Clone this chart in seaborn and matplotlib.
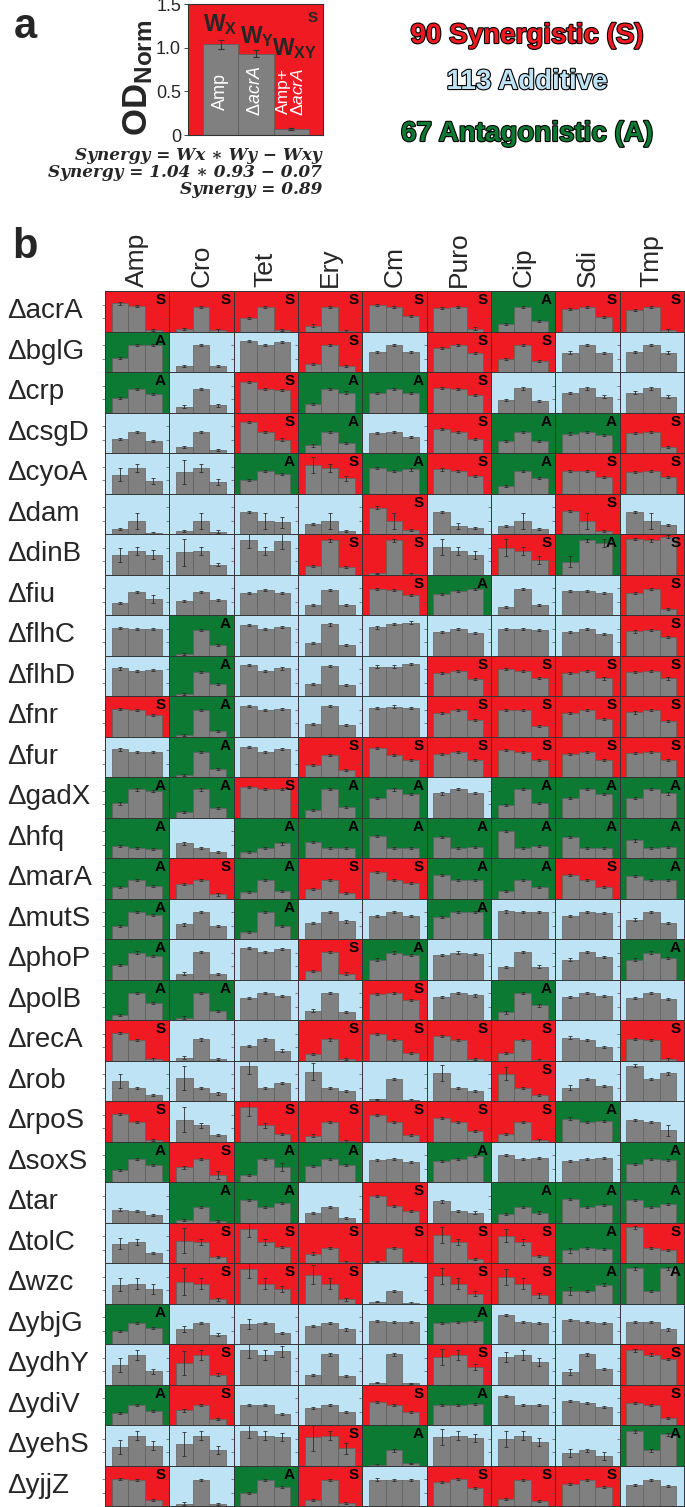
import numpy as np
import pandas as pd
import matplotlib
matplotlib.use("Agg")
import matplotlib.pyplot as plt
import matplotlib.patheffects as pe
import seaborn as sns

sns.set_theme(style="white")
plt.rcParams["font.family"] = ["Liberation Sans", "DejaVu Sans"]
plt.rcParams["mathtext.fontset"] = "custom"
plt.rcParams["mathtext.rm"] = "Liberation Sans"
plt.rcParams["mathtext.bf"] = "Liberation Sans:bold"
plt.rcParams["mathtext.it"] = "Liberation Sans:italic"

W, H = 685, 1507

# ---- panel a data ----
inset_labels = ["Amp", "ΔacrA", "Amp+ΔacrA"]
inset_values = [1.04, 0.93, 0.07]
inset_errors = [0.05, 0.04, 0.01]
inset_tags = [r"$\mathbf{W_X}$", r"$\mathbf{W_Y}$", r"$\mathbf{W_{XY}}$"]

# ---- panel b data ----
drugs = ["Amp", "Cro", "Tet", "Ery", "Cm", "Puro", "Cip", "Sdi", "Tmp"]
genes = ["acrA", "bglG", "crp", "csgD", "cyoA", "dam", "dinB", "fiu", "flhC", "flhD",
         "fnr", "fur", "gadX", "hfq", "marA", "mutS", "phoP", "polB", "recA", "rob",
         "rpoS", "soxS", "tar", "tolC", "wzc", "ybjG", "ydhY", "ydiV", "yehS", "yjjZ"]

# S = synergistic, A = antagonistic, . = additive  (columns follow drugs)
interaction = ["SSSSSSASS", "A..S.SS..", "A.SAAS...", "..SA.SAAS", "..ASASASS",
               "....S..S.", "...SS.SAS", "....SA..S", ".A......S", ".A...SSSS",
               "SA...SSSS", ".A.SSSSSS", "AASAA.AAA", "A.AAAAAAA", "ASASSAASA",
               "A.A..A...", "A..SA...A", "AA..S.A..", "S..SSSS.S", "......S..",
               "S.SSSSSA.", "ASAA.A..A", ".AA.S.AAA", ".SSSSSSAS", ".SSS.SSAA",
               "A....A...", ".S...S..S", "AS..SA..S", "...SA...A", "S.AS.SSS."]

w_drug = [
    [1.04, 0.08, 0.50, 0.22, 0.98, 0.88, 0.28, 0.84, 0.80],
    [0.53, 0.21, 1.16, 0.30, 0.73, 0.90, 0.47, 0.72, 0.74],
    [0.53, 0.22, 1.14, 0.30, 0.73, 0.90, 0.46, 0.73, 0.74],
    [0.52, 0.21, 1.15, 0.28, 0.73, 0.88, 0.44, 0.72, 0.73],
    [0.70, 0.80, 0.49, 1.06, 0.96, 0.89, 0.27, 0.83, 0.80],
    [0.20, 0.12, 0.83, 0.36, 0.98, 0.83, 0.30, 0.85, 0.83],
    [0.72, 0.83, 1.28, 0.33, 0.04, 1.02, 1.00, 0.47, 1.31],
    [0.46, 0.53, 0.83, 0.36, 0.96, 0.77, 0.30, 0.89, 0.83],
    [1.01, 0.07, 1.12, 0.47, 1.04, 0.86, 0.98, 0.88, 0.89],
    [1.02, 0.06, 1.14, 0.44, 1.09, 0.86, 0.99, 0.86, 0.89],
    [1.01, 0.06, 1.14, 0.46, 1.07, 0.86, 0.98, 0.88, 0.89],
    [1.02, 0.06, 1.11, 0.44, 1.06, 0.86, 0.99, 0.86, 0.88],
    [0.52, 0.20, 1.14, 0.28, 0.73, 0.89, 0.46, 0.72, 0.73],
    [0.44, 0.54, 0.23, 0.58, 0.81, 0.78, 0.99, 0.79, 0.65],
    [0.44, 0.53, 0.25, 0.35, 0.99, 0.88, 0.28, 0.88, 0.84],
    [0.47, 0.54, 0.26, 0.60, 0.84, 0.81, 1.02, 0.84, 0.72],
    [0.53, 0.22, 1.17, 0.30, 0.74, 0.90, 0.46, 0.74, 0.74],
    [0.17, 0.09, 0.83, 0.35, 0.96, 0.86, 0.28, 0.85, 0.83],
    [1.02, 0.11, 0.53, 0.23, 0.98, 0.90, 0.28, 0.85, 0.81],
    [0.74, 0.84, 1.30, 1.09, 0.07, 1.05, 1.01, 0.49, 1.31],
    [1.01, 0.81, 1.26, 0.22, 0.98, 0.88, 0.27, 0.85, 0.79],
    [0.44, 0.54, 0.26, 0.58, 0.83, 0.79, 1.00, 0.79, 0.68],
    [0.48, 0.09, 0.83, 0.36, 0.98, 0.78, 0.30, 0.86, 0.83],
    [0.72, 0.83, 1.27, 0.35, 0.07, 1.05, 1.01, 0.47, 1.32],
    [0.70, 0.80, 1.26, 1.06, 0.07, 1.02, 0.99, 0.46, 1.30],
    [0.47, 0.56, 0.74, 0.67, 0.86, 0.77, 1.07, 0.89, 0.83],
    [0.72, 0.80, 1.27, 0.35, 0.06, 1.02, 1.02, 0.47, 1.27],
    [0.44, 0.54, 0.73, 0.64, 0.85, 0.75, 1.06, 0.88, 0.81],
    [0.68, 0.80, 1.26, 1.05, 0.02, 1.05, 0.99, 0.47, 1.27],
    [1.01, 0.09, 0.49, 0.22, 0.98, 0.89, 0.27, 0.83, 0.79],
]

w_gene = [
    [0.93, 0.92, 0.92, 0.92, 0.90, 0.90, 0.90, 0.90, 0.90],
    [1.01, 1.01, 1.01, 1.01, 1.01, 1.01, 1.01, 1.01, 1.01],
    [0.88, 0.88, 0.88, 0.88, 0.88, 0.88, 0.89, 0.89, 0.89],
    [0.77, 0.77, 0.77, 0.77, 0.77, 0.77, 0.77, 0.77, 0.77],
    [0.95, 0.95, 0.83, 0.93, 0.83, 0.83, 0.83, 0.83, 0.83],
    [0.48, 0.48, 0.48, 0.48, 0.48, 0.30, 0.48, 0.48, 0.48],
    [0.88, 0.88, 0.88, 1.26, 1.26, 0.88, 0.88, 1.26, 1.26],
    [0.86, 0.86, 0.93, 0.94, 0.94, 0.88, 0.95, 0.88, 0.95],
    [0.99, 0.95, 0.98, 1.15, 1.16, 0.98, 0.98, 0.98, 0.96],
    [0.93, 0.90, 0.93, 1.10, 1.09, 0.93, 0.93, 0.93, 0.93],
    [0.98, 0.98, 0.99, 1.12, 1.11, 0.98, 0.98, 0.98, 0.98],
    [0.93, 0.93, 0.93, 0.81, 0.81, 0.94, 0.94, 0.94, 0.94],
    [1.04, 1.04, 1.06, 1.06, 1.04, 1.06, 1.06, 1.06, 1.06],
    [0.38, 0.36, 0.36, 0.38, 0.36, 0.36, 0.36, 0.36, 0.36],
    [0.68, 0.69, 0.68, 0.68, 0.68, 0.68, 0.68, 0.68, 0.68],
    [0.99, 1.00, 1.00, 1.00, 1.00, 1.00, 1.00, 1.00, 1.00],
    [1.00, 1.02, 1.02, 1.02, 1.00, 1.00, 1.02, 1.02, 1.00],
    [1.00, 1.00, 1.00, 1.00, 1.00, 1.00, 1.00, 1.00, 1.00],
    [0.75, 0.78, 0.78, 0.78, 0.75, 0.75, 0.75, 0.75, 0.75],
    [0.47, 0.47, 0.47, 0.47, 0.80, 0.47, 0.47, 0.80, 0.80],
    [0.72, 0.60, 0.60, 0.72, 0.73, 0.73, 0.73, 0.73, 0.73],
    [0.84, 0.84, 0.84, 0.84, 0.85, 0.85, 0.85, 0.85, 0.84],
    [0.42, 0.58, 0.58, 0.58, 0.62, 0.42, 0.58, 0.58, 0.58],
    [0.78, 0.78, 0.78, 0.56, 0.56, 0.78, 0.78, 0.56, 0.56],
    [0.74, 0.74, 0.74, 0.74, 0.46, 0.74, 0.74, 0.46, 0.46],
    [0.79, 0.79, 0.79, 0.79, 0.83, 0.80, 0.80, 0.83, 0.80],
    [1.09, 1.09, 1.09, 1.12, 1.12, 1.09, 1.09, 1.12, 1.11],
    [0.75, 0.75, 0.75, 0.75, 0.75, 0.75, 0.75, 0.83, 0.75],
    [1.11, 1.11, 1.11, 1.11, 0.56, 1.11, 1.11, 0.56, 0.56],
    [0.95, 0.95, 0.95, 0.95, 0.95, 1.01, 0.95, 0.95, 0.95],
]

w_combo = [
    [0.07, 0.04, 0.05, 0.02, 0.57, 0.11, 0.40, 0.54, 0.04],
    [0.99, 0.22, 1.12, 0.21, 0.75, 0.70, 0.40, 0.69, 0.72],
    [0.67, 0.26, 0.83, 0.74, 0.73, 0.64, 0.43, 0.59, 0.59],
    [0.43, 0.10, 0.50, 0.36, 0.58, 0.53, 0.44, 0.67, 0.21],
    [0.46, 0.43, 0.73, 0.56, 0.89, 0.64, 0.58, 0.60, 0.60],
    [0.05, 0.09, 0.44, 0.10, 0.15, 0.23, 0.20, 0.11, 0.33],
    [0.74, 0.37, 1.25, 0.28, 0.02, 0.72, 0.53, 1.16, 1.40],
    [0.58, 0.56, 0.83, 0.36, 0.73, 0.95, 0.38, 0.81, 0.23],
    [0.99, 0.38, 1.07, 0.40, 1.22, 0.84, 0.93, 0.79, 0.70],
    [0.96, 0.46, 1.02, 0.42, 1.17, 0.64, 0.68, 0.65, 0.65],
    [0.79, 0.21, 1.01, 0.43, 1.07, 0.62, 0.40, 0.64, 0.58],
    [0.94, 0.30, 1.04, 0.25, 0.62, 0.62, 0.62, 0.63, 0.62],
    [0.99, 0.36, 1.07, 0.38, 0.86, 0.91, 0.54, 0.86, 0.89],
    [0.33, 0.23, 0.54, 0.38, 0.36, 0.42, 0.44, 0.37, 0.41],
    [0.47, 0.15, 0.27, 0.19, 0.56, 0.68, 0.43, 0.43, 0.68],
    [0.90, 0.49, 0.49, 0.65, 0.84, 1.00, 1.00, 0.96, 0.59],
    [0.88, 0.21, 1.14, 0.22, 0.90, 0.94, 0.48, 0.83, 0.81],
    [0.63, 0.32, 0.88, 0.31, 0.73, 0.91, 0.54, 0.88, 0.79],
    [0.04, 0.06, 0.37, 0.05, 0.28, 0.05, 0.01, 0.51, 0.04],
    [0.23, 0.28, 0.68, 0.36, 0.05, 0.36, 0.22, 0.57, 1.02],
    [0.06, 0.25, 0.27, 0.02, 0.23, 0.38, 0.04, 0.75, 0.41],
    [0.63, 0.26, 0.57, 0.63, 0.74, 0.96, 0.89, 0.88, 0.81],
    [0.27, 0.06, 0.72, 0.17, 0.42, 0.37, 0.37, 0.65, 0.69],
    [0.37, 0.21, 0.59, 0.02, 0.02, 0.15, 0.25, 0.53, 0.49],
    [0.54, 0.15, 0.53, 0.15, 0.02, 0.37, 0.30, 0.70, 1.30],
    [0.58, 0.35, 0.42, 0.54, 0.80, 0.86, 0.77, 0.77, 0.54],
    [0.49, 0.37, 1.23, 0.31, 0.04, 0.65, 0.83, 0.57, 0.94],
    [0.51, 0.23, 0.40, 0.48, 0.48, 0.79, 0.75, 0.67, 0.27],
    [0.74, 0.56, 1.07, 0.63, 0.09, 1.02, 0.86, 0.35, 1.15],
    [0.23, 0.07, 0.70, 0.10, 0.95, 0.67, 0.19, 0.70, 0.74],
]

e = 0.04
err_drug = [[e] * 9 for _ in genes]
err_gene = [[e] * 9 for _ in genes]
err_combo = [[e] * 9 for _ in genes]
# rows with visibly larger error bars
err_drug[4] = [0.25, 0.45, 0.04, 0.30, 0.04, 0.04, 0.04, 0.04, 0.04]
err_drug[6] = [0.25, 0.50, 0.30, 0.04, 0.02, 0.30, 0.30, 0.20, 0.05]
err_drug[19] = [0.25, 0.45, 0.30, 0.30, 0.02, 0.30, 0.25, 0.10, 0.05]
err_drug[20] = [0.04, 0.45, 0.30, 0.04, 0.04, 0.04, 0.04, 0.04, 0.04]
err_drug[23] = [0.20, 0.45, 0.30, 0.04, 0.02, 0.30, 0.25, 0.10, 0.05]
err_drug[24] = [0.25, 0.50, 0.30, 0.35, 0.02, 0.30, 0.30, 0.15, 0.05]
err_drug[25] = [0.04, 0.10, 0.20, 0.04, 0.04, 0.04, 0.04, 0.04, 0.04]
err_drug[26] = [0.25, 0.45, 0.30, 0.04, 0.02, 0.30, 0.20, 0.10, 0.05]
err_drug[28] = [0.25, 0.45, 0.25, 0.50, 0.02, 0.30, 0.30, 0.15, 0.05]
err_gene[4] = [0.15, 0.15, 0.04, 0.15, 0.04, 0.04, 0.04, 0.04, 0.04]
err_gene[5] = [0.30, 0.30, 0.30, 0.30, 0.30, 0.10, 0.30, 0.30, 0.30]
err_gene[6] = [0.15, 0.15, 0.15, 0.04, 0.04, 0.15, 0.15, 0.04, 0.04]
err_gene[20] = [0.04, 0.10, 0.10, 0.04, 0.04, 0.04, 0.04, 0.04, 0.04]
err_gene[23] = [0.10, 0.10, 0.10, 0.04, 0.04, 0.10, 0.10, 0.04, 0.04]
err_gene[24] = [0.20, 0.20, 0.20, 0.20, 0.05, 0.20, 0.20, 0.05, 0.05]
err_gene[26] = [0.20, 0.20, 0.20, 0.05, 0.05, 0.20, 0.20, 0.05, 0.05]
err_gene[28] = [0.15, 0.15, 0.15, 0.15, 0.05, 0.15, 0.15, 0.05, 0.05]
err_combo[4] = [0.10, 0.10, 0.04, 0.10, 0.04, 0.04, 0.04, 0.04, 0.04]
err_combo[5] = [0.04, 0.04, 0.20, 0.04, 0.04, 0.04, 0.04, 0.04, 0.04]
err_combo[6] = [0.15, 0.07, 0.30, 0.04, 0.02, 0.15, 0.15, 0.15, 0.05]
err_combo[7] = [0.15, 0.04, 0.04, 0.04, 0.04, 0.04, 0.04, 0.04, 0.04]
err_combo[20] = [0.04, 0.04, 0.04, 0.04, 0.04, 0.04, 0.04, 0.04, 0.20]
err_combo[21] = [0.04, 0.15, 0.15, 0.04, 0.04, 0.04, 0.04, 0.04, 0.04]
err_combo[24] = [0.20, 0.05, 0.10, 0.05, 0.02, 0.10, 0.10, 0.05, 0.05]
err_combo[26] = [0.10, 0.05, 0.20, 0.05, 0.02, 0.10, 0.15, 0.05, 0.05]
err_combo[28] = [0.15, 0.15, 0.15, 0.20, 0.02, 0.15, 0.15, 0.15, 0.05]

bg = {"S": "#f01a22", "A": "#0d7a34", ".": "#bde3f5"}
bar_color = "#808080"
bar_edge = "#5f5f5f"

fig = plt.figure(figsize=(W / 100, H / 100), dpi=100)

# ---------------- panel a ----------------
axa = fig.add_axes([188 / W, 1 - 135 / H, 135 / W, 131 / H])
dfa = pd.DataFrame({"cond": inset_labels, "od": inset_values})
sns.barplot(data=dfa, x="cond", y="od", color=bar_color, saturation=1, width=1.0,
            edgecolor=bar_edge, linewidth=0.6, errorbar=None, ax=axa)
axa.errorbar(range(3), inset_values, yerr=inset_errors, fmt="none", ecolor="#303030",
             elinewidth=0.8, capsize=2, capthick=0.8)
axa.set_facecolor(bg["S"])
axa.set_xlim(-0.92, 2.9)
axa.set_ylim(0, 1.5)
axa.set_xticks([])
axa.set_yticks([0, 0.5, 1.0, 1.5])
axa.set_yticklabels(["0", "0.5", "1.0", "1.5"], fontsize=13)
axa.tick_params(axis="y", left=True, length=3, width=0.6, pad=2)
axa.set_xlabel("")
axa.set_ylabel("")
for s in axa.spines.values():
    s.set_color("#333333")
    s.set_linewidth(0.8)
# W tags sit on a staircase above the bars
for k, (tag, ty) in enumerate(zip(inset_tags, [1.26, 1.13, 0.99])):
    axa.text(k + 0.05 * k, ty, tag, ha="center", va="center", fontsize=16.5)
axa.text(0, 0.5, "Amp", rotation=90, ha="center", va="center", color="white", fontsize=13)
axa.text(1, 0.5, r"Δ$\it{acrA}$", rotation=90, ha="center", va="center", color="white", fontsize=13)
axa.text(2, 0.5, "Amp+\n" + r"Δ$\it{acrA}$", rotation=90, ha="center", va="center",
         color="white", fontsize=12.5, linespacing=0.9)
axa.text(0.96, 0.95, "S", transform=axa.transAxes, ha="right", va="top",
         fontsize=11, fontweight="bold")
fig.text(138 / W, 1 - 78 / H, r"$\mathbf{OD_{Norm}}$", rotation=90, ha="center",
         va="center", fontsize=25)

eq_lines = ["Synergy = Wx ∗ Wy − Wxy", "Synergy = 1.04 ∗ 0.93 − 0.07", "Synergy = 0.89"]
for k, line in enumerate(eq_lines):
    fig.text(322 / W, 1 - (155 + 17.5 * k) / H, line, ha="right", va="center",
             fontsize=12.2, family="DejaVu Serif", fontweight="bold", fontstyle="italic")

fig.text(14 / W, 1 - 38 / H, "a", fontsize=30, fontweight="bold")
fig.text(12 / W, 1 - 258 / H, "b", fontsize=30, fontweight="bold")

legend_items = [("90 Synergistic (S)", bg["S"], 36), ("113 Additive", bg["."], 82),
                ("67 Antagonistic (A)", bg["A"], 134)]
for txt, col, yy in legend_items:
    fig.text(527 / W, 1 - yy / H, txt, ha="center", va="center", fontsize=20,
             fontweight="bold", color=col,
             path_effects=[pe.withStroke(linewidth=1.6, foreground="black")])

# ---------------- panel b ----------------
gs = fig.add_gridspec(len(genes), len(drugs), left=105 / W, right=684 / W,
                      top=1 - 291 / H, bottom=1 - 1506 / H, wspace=0, hspace=0)
for i, gene in enumerate(genes):
    for j, drug in enumerate(drugs):
        ax = fig.add_subplot(gs[i, j])
        vals = [w_drug[i][j], w_gene[i][j], w_combo[i][j]]
        errs = [err_drug[i][j], err_gene[i][j], err_combo[i][j]]
        cell = pd.DataFrame({"cond": ["x", "y", "xy"], "od": vals})
        sns.barplot(data=cell, x="cond", y="od", color=bar_color, saturation=1, width=1.0,
                    edgecolor=bar_edge, linewidth=0.5, errorbar=None, ax=ax)
        ax.errorbar(range(3), vals, yerr=errs, fmt="none", ecolor="#2e2e2e",
                    elinewidth=0.6, capsize=1.2, capthick=0.6)
        kind = interaction[i][j]
        ax.set_facecolor(bg[kind])
        ax.set_xlim(-0.9, 2.95)
        ax.set_ylim(0, 1.5)
        ax.set_xticks([])
        ax.set_yticks([0.5, 1.0])
        ax.tick_params(axis="y", left=True, length=2, width=0.5, color="#555555",
                       labelleft=False)
        ax.set_xlabel("")
        ax.set_ylabel("")
        for s in ax.spines.values():
            s.set_color("#333333")
            s.set_linewidth(0.7)
        if kind != ".":
            ax.text(0.95, 0.95, kind, transform=ax.transAxes, ha="right", va="top",
                    fontsize=11, fontweight="bold", color="black")
        if i == 0:
            ax.text(0.5, 1.1, drug, transform=ax.transAxes, rotation=90, ha="center",
                    va="bottom", fontsize=19)
        if j == 0:
            ax.text(-1.52, 0.5, "Δ" + gene, transform=ax.transAxes, ha="left",
                    va="center", fontsize=20)

fig.savefig("out.png", dpi=100)
